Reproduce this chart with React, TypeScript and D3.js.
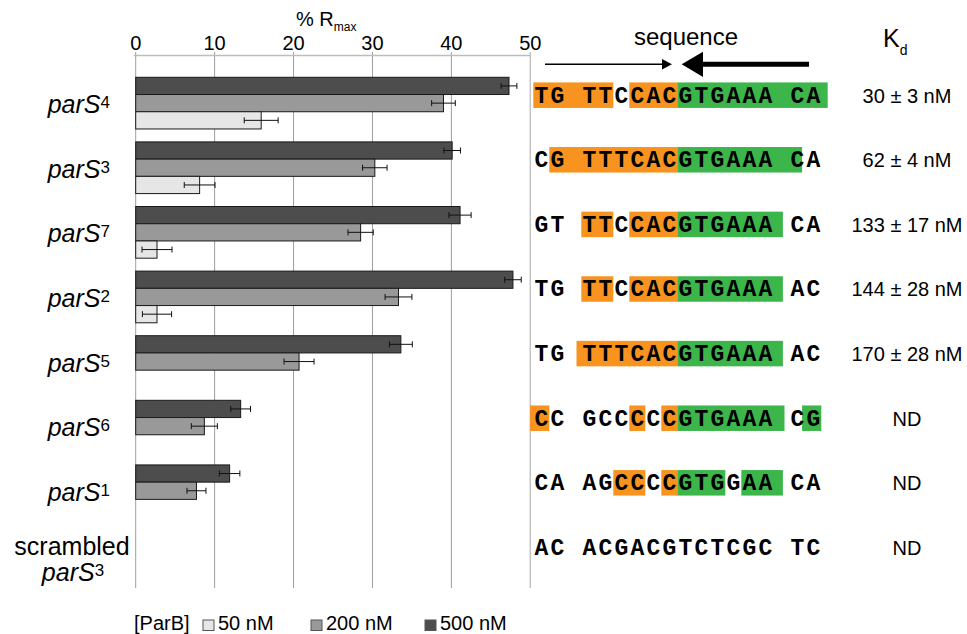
import React from "react";
import * as d3 from "d3";

// categories (top to bottom) and superscripts
const categories = ["parS4", "parS3", "parS7", "parS2", "parS5", "parS6", "parS1", "scrambled parS3"];
const supers = ["4", "3", "7", "2", "5", "6", "1", "3"];

// % Rmax per ParB concentration, with error
const v500 = [47.3, 40.1, 41.1, 47.8, 33.6, 13.3, 11.9, 0];
const e500 = [1.0, 1.05, 1.4, 1.05, 1.45, 1.25, 1.3, 0];
const v200 = [39.0, 30.3, 28.5, 33.3, 20.7, 8.7, 7.7, 0];
const e200 = [1.5, 1.55, 1.6, 1.7, 1.9, 1.65, 1.2, 0];
const v50 = [15.9, 8.1, 2.7, 2.7, 0, 0, 0, 0];
const e50 = [2.15, 1.95, 1.9, 1.85, 0, 0, 0, 0];

const seriesNames = ["500", "200", "50"];
const seriesLabels = ["50 nM", "200 nM", "500 nM"];

// sequences with highlighted spans [start, end, kind] in character units
const sequences = [
  "TG TTCCACGTGAAA CA",
  "CG TTTCACGTGAAA CA",
  "GT TTCCACGTGAAA CA",
  "TG TTCCACGTGAAA AC",
  "TG TTTCACGTGAAA AC",
  "CC GCCCCCGTGAAA CG",
  "CA AGCCCCGTGGAA CA",
  "AC ACGACGTCTCGC TC",
];
const highlights: [number, number, string][][] = [
  [[0, 5, "o"], [6, 9, "o"], [9, 18.4, "g"]],
  [[1, 9, "o"], [9, 16.8, "g"]],
  [[3, 5, "o"], [6, 9, "o"], [9, 15.6, "g"]],
  [[3, 5, "o"], [6, 9, "o"], [9, 15.6, "g"]],
  [[2.7, 9, "o"], [9, 15.6, "g"]],
  [[-0.2, 1, "o"], [6, 7, "o"], [8, 9, "o"], [9, 15.7, "g"], [16.8, 18, "g"]],
  [[5, 7, "o"], [8, 9, "o"], [9, 12, "g"], [13, 15.6, "g"]],
  [],
];
const kdLabels = ["30 ± 3 nM", "62 ± 4 nM", "133 ± 17 nM", "144 ± 28 nM", "170 ± 28 nM", "ND", "ND", "ND"];

const W = 967, H = 634;
const sans = "'Liberation Sans', Arial, sans-serif";
const mono = "'Liberation Mono', 'Courier New', monospace";
const fills: Record<string, string> = { "500": "#4d4d4d", "200": "#999999", "50": "#e6e6e6" };
const hiColor: Record<string, string> = { o: "#f7931e", g: "#3cb54a" };

export default function App() {
  const x = d3.scaleLinear().domain([0, 50]).range([135.7, 530.3]);
  const y = d3.scaleBand().domain(categories).range([55, 603.5]).paddingInner(0.2).paddingOuter(0.345);
  const sub = d3.scaleBand().domain(seriesNames).range([0, y.bandwidth()]);
  const vals: Record<string, number[]> = { "500": v500, "200": v200, "50": v50 };
  const errs: Record<string, number[]> = { "500": e500, "200": e200, "50": e50 };

  const seqX = 533.3, cw = 16;
  const gridBottom = 588;

  return (
    <svg width={W} height={H} style={{ position: "absolute", left: 0, top: 0, background: "#fff" }} fontFamily={sans}>
      {/* axis title */}
      <text x={296} y={26} fontSize={20}>% R<tspan fontSize={12} dy={5}>max</tspan></text>
      {/* grid + ticks */}
      {x.ticks(5).map((t) => (
        <g key={t}>
          <line x1={x(t)} x2={x(t)} y1={52} y2={gridBottom} stroke={t === 50 ? "#c4c4c4" : "#9e9e9e"} strokeWidth={t === 50 ? 1.5 : 1} />
          <text x={x(t)} y={50} fontSize={20} textAnchor="middle">{t}</text>
        </g>
      ))}
      <line x1={x(0) - 2} x2={x(50)} y1={55.5} y2={55.5} stroke="#bdbdbd" strokeWidth={1.5} />

      {/* bars */}
      {categories.map((c, i) => (
        <g key={c} transform={`translate(0,${y(c)})`}>
          {seriesNames.map((s) => {
            const v = vals[s][i], e = errs[s][i];
            if (v <= 0) return null;
            const by = sub(s)!, cy = by + sub.bandwidth() / 2;
            return (
              <g key={s}>
                <rect x={x(0)} y={by} width={x(v) - x(0)} height={sub.bandwidth()} fill={fills[s]} stroke="#1a1a1a" strokeWidth={1} />
                <line x1={x(v - e)} x2={x(v + e)} y1={cy} y2={cy} stroke="#111" strokeWidth={1} />
                <line x1={x(v - e)} x2={x(v - e)} y1={cy - 3} y2={cy + 3} stroke="#111" strokeWidth={1} />
                <line x1={x(v + e)} x2={x(v + e)} y1={cy - 3} y2={cy + 3} stroke="#111" strokeWidth={1} />
              </g>
            );
          })}
        </g>
      ))}

      {/* category labels */}
      {categories.map((c, i) => {
        const cy = y(c)! + y.bandwidth() / 2;
        if (c.startsWith("scrambled")) {
          return (
            <g key={c} fontSize={25}>
              <text x={72} y={cy} textAnchor="middle">scrambled</text>
              <text x={73} y={cy + 26} textAnchor="middle">
                <tspan fontStyle="italic">parS</tspan>
                <tspan fontSize={17} dy={-5}>{supers[i]}</tspan>
              </text>
            </g>
          );
        }
        return (
          <text key={c} x={110} y={cy + 10} fontSize={25} textAnchor="end">
            <tspan fontStyle="italic">parS</tspan>
            <tspan fontSize={17} dy={-5}>{supers[i]}</tspan>
          </text>
        );
      })}

      {/* sequence header */}
      <text x={686} y={45} fontSize={24} textAnchor="middle">sequence</text>
      <line x1={545} x2={665} y1={64.3} y2={64.3} stroke="#000" strokeWidth={1.5} />
      <path d="M672,64.3 L662,59 L662,69.6 Z" fill="#000" />
      <line x1={700} x2={809} y1={64.3} y2={64.3} stroke="#000" strokeWidth={5} />
      <path d="M681.7,64.3 L703,51.7 L703,76.9 Z" fill="#000" />
      <text x={883} y={47} fontSize={25}>K<tspan fontSize={14} dy={8}>d</tspan></text>

      {/* sequences */}
      {sequences.map((seq, i) => {
        const rc = y(categories[i])! + y.bandwidth() / 2 - 8;
        return (
          <g key={i}>
            {highlights[i].map(([a, b, k], j) => (
              <rect key={j} x={seqX + a * cw} y={rc - 12.7} width={(b - a) * cw} height={25.5} fill={hiColor[k]} />
            ))}
            {seq.split("").map((ch, j) => (
              <text key={j} x={seqX + j * cw + cw / 2} y={rc + 7.5} fontFamily={mono} fontWeight="bold" fontSize={23} textAnchor="middle">{ch}</text>
            ))}
            <text x={907} y={rc + 7.5} fontSize={20} textAnchor="middle">{kdLabels[i]}</text>
          </g>
        );
      })}

      {/* legend */}
      <g fontSize={20}>
        <text x={134} y={630}>[ParB]</text>
        {[...seriesNames].reverse().map((s, i) => {
          const lx = [203, 311, 425][i];
          return (
            <g key={s}>
              <rect x={lx} y={620} width={11} height={10.5} fill={fills[s]} stroke="#555" strokeWidth={1} />
              <text x={lx + 15} y={630}>{seriesLabels[i]}</text>
            </g>
          );
        })}
      </g>
    </svg>
  );
}
